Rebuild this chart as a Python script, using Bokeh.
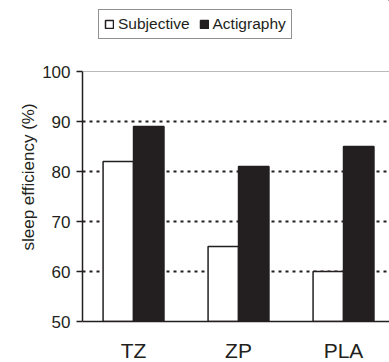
from bokeh.plotting import figure
from bokeh.layouts import column
from bokeh.models import Range1d, FixedTicker, Legend, LegendItem, Span, ColumnDataSource, Title
from bokeh.embed import file_html
from bokeh.resources import INLINE

categories = ["TZ", "ZP", "PLA"]
subjective = [82, 65, 60]
actigraphy = [89, 81, 85]
series_names = ["Subjective", "Actigraphy"]
y_ticks = [50, 60, 70, 80, 90, 100]
y_label = "sleep efficiency (%)"

INK = "#231f20"
FONT = "Liberation Sans"

centers = [i + 0.5 for i in range(len(categories))]
bw = 0.29
src_s = ColumnDataSource(dict(x=[c - bw / 2 for c in centers], top=subjective))
src_a = ColumnDataSource(dict(x=[c + bw / 2 for c in centers], top=actigraphy))

p = figure(frame_width=307, frame_height=250, output_backend="svg", toolbar_location=None,
           x_range=Range1d(0.014, 2.938), y_range=Range1d(50, 100),
           min_border_left=82, min_border_right=0, min_border_top=10, min_border_bottom=41)
p.outline_line_color = None
p.background_fill_color = "white"
p.border_fill_color = "white"

p.xgrid.grid_line_color = None
p.ygrid.ticker = FixedTicker(ticks=y_ticks)
p.ygrid.grid_line_color = INK
p.ygrid.grid_line_width = 1.8
p.ygrid.grid_line_dash = "3 4"

p.add_layout(Span(location=100, dimension="width", line_color="#777777", line_width=1))

bar_s = dict(fill_color="white", line_color=INK, line_width=1.5)
bar_a = dict(fill_color=INK, line_color=INK, line_width=1.5)
p.vbar(x="x", top="top", bottom=50, width=bw, source=src_s, **bar_s)
p.vbar(x="x", top="top", bottom=50, width=bw, source=src_a, **bar_a)

# axes
ya = p.yaxis[0]
ya.ticker = FixedTicker(ticks=y_ticks)
ya.major_label_text_font = FONT
ya.major_label_text_font_size = "17px"
ya.major_label_text_color = INK
ya.major_label_standoff = 6
ya.major_tick_out = 6
ya.major_tick_in = 0
ya.minor_tick_out = 0
ya.minor_tick_in = 0
ya.axis_line_width = 1.5
ya.axis_line_color = INK
ya.major_tick_line_color = INK
ya.major_tick_line_width = 1.5

p.add_layout(Title(text=y_label, align="left", offset=71, standoff=4,
                   text_font=FONT, text_font_size="17px", text_font_style="normal",
                   text_color=INK), "left")

xa = p.xaxis[0]
xa.ticker = FixedTicker(ticks=centers)
xa.major_label_overrides = {c: lab for c, lab in zip(centers, categories)}
xa.major_label_text_font = FONT
xa.major_label_text_font_size = "21px"
xa.major_label_text_color = INK
xa.major_label_standoff = 17
xa.major_tick_out = 0
xa.major_tick_in = 0
xa.minor_tick_out = 0
xa.minor_tick_in = 0
xa.axis_line_width = 1.5
xa.axis_line_color = INK

# legend strip above the chart (its bars lie far outside its own ranges)
lf = figure(width=389, height=61, output_backend="svg", toolbar_location=None,
            x_range=Range1d(-101, -100), y_range=Range1d(-101, -100),
            x_axis_type=None, y_axis_type=None,
            min_border_left=0, min_border_right=0, min_border_top=0, min_border_bottom=0)
lf.outline_line_color = None
lf.grid.visible = False
lf.title.visible = False
lr_s = lf.vbar(x="x", top="top", bottom=50, width=bw, source=src_s, **bar_s)
lr_a = lf.vbar(x="x", top="top", bottom=50, width=bw, source=src_a, **bar_a)

legend = Legend(items=[LegendItem(label=series_names[0], renderers=[lr_s]),
                       LegendItem(label=series_names[1], renderers=[lr_a])],
                location=(16, 22), orientation="horizontal",
                label_text_font=FONT, label_text_font_size="15.5px", label_text_color=INK,
                glyph_width=10, glyph_height=10, label_standoff=4, spacing=9,
                padding=5, margin=0, label_height=17,
                border_line_color=INK, border_line_width=1.5,
                background_fill_alpha=1)
lf.add_layout(legend, "center")

layout = column(lf, p, spacing=0)
open("out.html", "w").write(file_html(layout, INLINE))
